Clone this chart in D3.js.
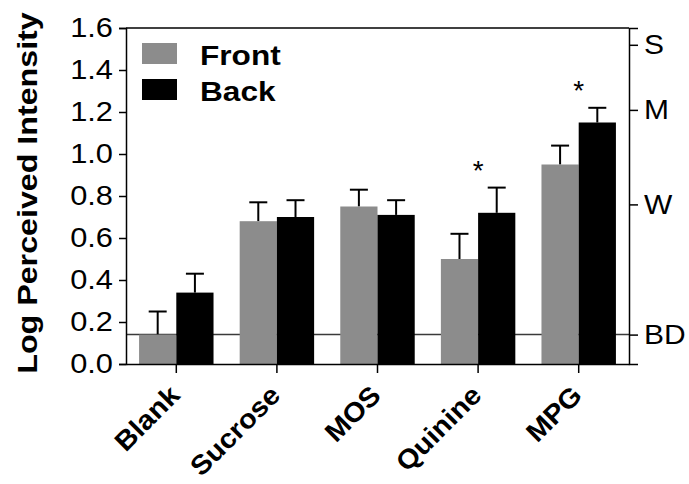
<!DOCTYPE html>
<html>
<head>
<meta charset="utf-8">
<script src="https://cdn.jsdelivr.net/npm/d3@7"></script>
<style>
  body { margin: 0; background: #fff; }
  text { font-family: "Liberation Sans", Arial, sans-serif; }
</style>
</head>
<body>
<div id="chart"></div>
<script>
// data
var categories = ["Blank", "Sucrose", "MOS", "Quinine", "MPG"];
var seriesNames = ["Front", "Back"];
var frontMean = [0.14, 0.68, 0.75, 0.50, 0.95];
var frontErr  = [0.25, 0.77, 0.83, 0.62, 1.04];
var backMean  = [0.34, 0.70, 0.71, 0.72, 1.15];
var backErr   = [0.43, 0.78, 0.78, 0.84, 1.22];
var starred   = ["Quinine", "MPG"];
var yTicks = [0, 0.2, 0.4, 0.6, 0.8, 1.0, 1.2, 1.4, 1.6];
var scaleLabels = ["BD", "W", "M", "S"];
var scaleValues = [0.14, 0.76, 1.21, 1.52];

var cfg = {
  w: 689, h: 484,
  margin: {top: 28, right: 60, bottom: 120, left: 126},
  colors: ["#8c8c8c", "#000000"],
  font: "Liberation Sans, Arial, sans-serif"
};

var innerW = cfg.w - cfg.margin.left - cfg.margin.right,
    innerH = cfg.h - cfg.margin.top - cfg.margin.bottom;

// the original lettering is a bit wider than Arial, stretch glyphs along the line
function widen(sel, k) {
  sel.each(function() {
    var len = this.getComputedTextLength();
    d3.select(this).attr("textLength", len * k).attr("lengthAdjust", "spacingAndGlyphs");
  });
}

var svg = d3.select("#chart").append("svg")
  .attr("width", cfg.w)
  .attr("height", cfg.h);

var g = svg.append("g")
  .attr("transform", "translate(" + cfg.margin.left + "," + cfg.margin.top + ")");

var x0 = d3.scaleBand().domain(categories).range([0, innerW]).paddingInner(0.26).paddingOuter(0.13);
var x1 = d3.scaleBand().domain(seriesNames).range([0, x0.bandwidth()]);
var y = d3.scaleLinear().domain([0, 1.6]).range([innerH, 0]);

var rows = categories.map(function(c, i) {
  return [
    {cat: c, key: "Front", v: frontMean[i], e: frontErr[i]},
    {cat: c, key: "Back", v: backMean[i], e: backErr[i]}
  ];
});

// BD reference line (behind bars)
g.append("line")
  .attr("x1", 0).attr("x2", innerW)
  .attr("y1", y(scaleValues[0])).attr("y2", y(scaleValues[0]))
  .style("stroke", "#3a3a3a").style("stroke-width", 1.5);

var group = g.selectAll(".grp").data(rows).enter().append("g")
  .attr("class", "grp")
  .attr("transform", function(d) { return "translate(" + x0(d[0].cat) + ",0)"; });

// error bars (upper only)
var err = group.selectAll(".err").data(function(d) { return d; }).enter().append("g").attr("class", "err");
err.append("line")
  .attr("x1", function(d) { return x1(d.key) + x1.bandwidth() / 2; })
  .attr("x2", function(d) { return x1(d.key) + x1.bandwidth() / 2; })
  .attr("y1", function(d) { return y(d.v); })
  .attr("y2", function(d) { return y(d.e); })
  .style("stroke", "#000").style("stroke-width", 2);
err.append("line")
  .attr("x1", function(d) { return x1(d.key) + x1.bandwidth() / 2 - 9; })
  .attr("x2", function(d) { return x1(d.key) + x1.bandwidth() / 2 + 9; })
  .attr("y1", function(d) { return y(d.e); })
  .attr("y2", function(d) { return y(d.e); })
  .style("stroke", "#000").style("stroke-width", 2);

group.selectAll("rect").data(function(d) { return d; }).enter().append("rect")
  .attr("x", function(d) { return x1(d.key); })
  .attr("width", x1.bandwidth())
  .attr("y", function(d) { return y(d.v); })
  .attr("height", function(d) { return innerH - y(d.v); })
  .style("fill", function(d, i) { return cfg.colors[i]; });

// significance stars
g.selectAll(".star").data(starred).enter().append("text")
  .attr("class", "star")
  .attr("x", function(d) { return x0(d) + x0.bandwidth() / 2; })
  .attr("y", function(d) { return y(backErr[categories.indexOf(d)]) - 8; })
  .attr("text-anchor", "middle")
  .style("font-size", "28px")
  .text("*");

// top of frame
g.append("line").attr("x1", 0).attr("x2", innerW).attr("y1", 0).attr("y2", 0)
  .style("stroke", "#000").style("stroke-width", 1.5);

// left axis
var yAxis = g.append("g")
  .call(d3.axisLeft(y).tickValues(yTicks).tickFormat(d3.format(".1f")).tickSize(7).tickPadding(6));
yAxis.select(".domain").style("stroke-width", 1.5);
yAxis.selectAll(".tick line").style("stroke-width", 1.5);
yAxis.selectAll("text").style("font-size", "28px").style("font-family", cfg.font).call(widen, 1.1);

// right axis, gLMS descriptors
var rAxis = g.append("g")
  .attr("transform", "translate(" + innerW + ",0)")
  .call(d3.axisRight(y).tickValues(scaleValues).tickFormat(function(d, i) { return scaleLabels[i]; }).tickSize(9).tickPadding(6));
rAxis.select(".domain").style("stroke-width", 1.5);
rAxis.selectAll(".tick line").style("stroke-width", 1.5);
rAxis.selectAll("text").style("font-size", "28px").style("font-family", cfg.font).call(widen, 1.07);

// bottom axis
var xAxis = g.append("g")
  .attr("transform", "translate(0," + innerH + ")")
  .call(d3.axisBottom(x0).tickSize(9).tickSizeOuter(0).tickFormat(""));
xAxis.select(".domain").style("stroke-width", 1.5);
xAxis.selectAll(".tick line").style("stroke-width", 1.5);

g.selectAll(".xlab").data(categories).enter().append("text")
  .attr("class", "xlab")
  .attr("transform", function(d) {
    return "translate(" + (x0(d) + x0.bandwidth() / 2 + 5) + "," + (innerH + 33) + ") rotate(-45)";
  })
  .attr("text-anchor", "end")
  .style("font-size", "27px")
  .style("font-weight", "bold")
  .text(function(d) { return d; })
  .call(widen, 1.07);

// y title
svg.append("text")
  .attr("transform", "translate(37,193) rotate(-90)")
  .attr("text-anchor", "middle")
  .style("font-size", "28px")
  .style("font-weight", "bold")
  .text("Log Perceived Intensity")
  .call(widen, 1.15);

// legend
var legend = g.selectAll(".legend").data(seriesNames).enter().append("g")
  .attr("class", "legend")
  .attr("transform", function(d, i) { return "translate(16," + (15 + i * 36) + ")"; });
legend.append("rect").attr("width", 35).attr("height", 21)
  .style("fill", function(d, i) { return cfg.colors[i]; });
legend.append("text").attr("x", 58).attr("y", 21.5)
  .style("font-size", "27px").style("font-weight", "bold")
  .text(function(d) { return d; })
  .call(widen, 1.17);
</script>
</body>
</html>
